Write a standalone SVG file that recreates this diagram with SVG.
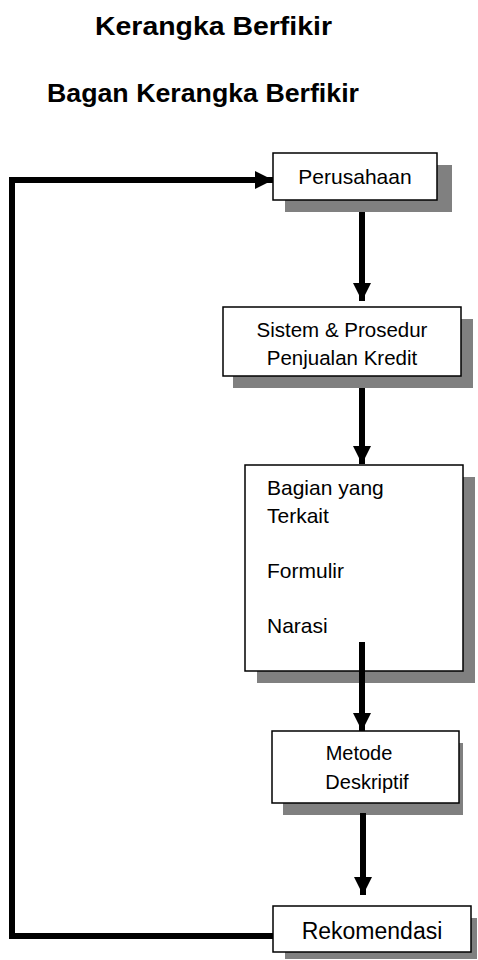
<svg xmlns="http://www.w3.org/2000/svg" width="478" height="960" viewBox="0 0 478 960">
<style>
text{font-family:"Liberation Sans",Arial,sans-serif;fill:#000}
.title{font-weight:bold;font-size:26px}
.box{fill:#fff;stroke:#000;stroke-width:1.5}
.shadow{fill:#808080}
.conn{fill:none;stroke:#000;stroke-width:6}
</style>
<defs>
<marker id="ah" markerUnits="userSpaceOnUse" markerWidth="18" markerHeight="18" refX="18" refY="9" orient="auto" viewBox="0 0 18 18">
<path d="M0,0 L18,9 L0,18 Z" fill="#000"/>
</marker>
</defs>
<rect width="478" height="960" fill="#fff"/>
<text class="title" x="95" y="35" textLength="237" lengthAdjust="spacingAndGlyphs">Kerangka Berfikir</text>
<text class="title" x="47" y="102" textLength="312" lengthAdjust="spacingAndGlyphs">Bagan Kerangka Berfikir</text>

<g id="perusahaan">
<rect class="shadow" x="285" y="165" width="167" height="47"/>
<rect class="box" x="273" y="153" width="164" height="47"/>
<text x="355" y="184" font-size="21" text-anchor="middle">Perusahaan</text>
</g>
<g id="sistem">
<rect class="shadow" x="233" y="319" width="240" height="69"/>
<rect class="box" x="223" y="307" width="238" height="69"/>
<text x="342" y="337" font-size="20.5" text-anchor="middle">Sistem &amp; Prosedur</text>
<text x="342" y="365" font-size="20.5" text-anchor="middle">Penjualan Kredit</text>
</g>
<g id="bagian">
<rect class="shadow" x="257" y="477" width="218" height="206"/>
<rect class="box" x="245" y="465" width="218" height="206"/>
<text x="267" y="495" font-size="21">Bagian yang</text>
<text x="267" y="523" font-size="21">Terkait</text>
<text x="267" y="578" font-size="21">Formulir</text>
<text x="267" y="633" font-size="21">Narasi</text>
</g>
<g id="metode">
<rect class="shadow" x="283" y="743" width="180" height="72"/>
<rect class="box" x="272" y="731" width="187" height="72"/>
<text x="359" y="760" font-size="20" text-anchor="middle">Metode</text>
<text x="367" y="789" font-size="20" text-anchor="middle">Deskriptif</text>
</g>
<g id="rekomendasi">
<rect class="shadow" x="285" y="918" width="192" height="41"/>
<rect class="box" x="273" y="906" width="198" height="46"/>
<text x="372" y="939" font-size="23" text-anchor="middle">Rekomendasi</text>
</g>

<g id="connectors">
<line class="conn" x1="362" y1="212" x2="362" y2="301" marker-end="url(#ah)"/>
<line class="conn" x1="362" y1="388" x2="362" y2="464" marker-end="url(#ah)"/>
<line class="conn" x1="362" y1="642" x2="362" y2="731" marker-end="url(#ah)"/>
<line class="conn" x1="363" y1="813" x2="363" y2="895" marker-end="url(#ah)"/>
<polyline class="conn" points="273,936 12,936 12,180 273,180" marker-end="url(#ah)"/>
</g>
</svg>
